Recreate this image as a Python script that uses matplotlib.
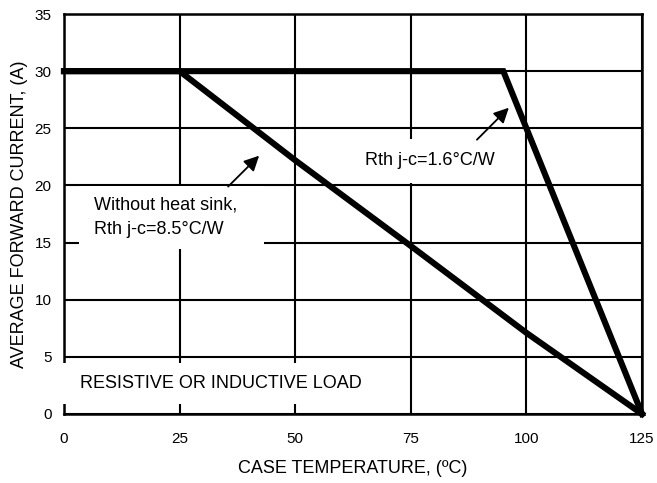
import matplotlib
matplotlib.use("Agg")
import matplotlib.pyplot as plt

plt.rcParams['font.family'] = ['Liberation Sans', 'DejaVu Sans']

# Derating curves
temp_no_sink = [0, 25, 50, 75, 100, 125]
current_no_sink = [30, 30, 22.2, 14.7, 7.1, 0]

temp_sink = [0, 95, 125]
current_sink = [30, 30, 0]

x_ticks = [0, 25, 50, 75, 100, 125]
y_ticks = [0, 5, 10, 15, 20, 25, 30, 35]

fig = plt.figure(figsize=(6.57, 4.83), dpi=100)
ax = fig.add_axes([0.0974, 0.1429, 0.8798, 0.8281])

ax.plot(temp_no_sink, current_no_sink, color='black', lw=4.4, zorder=4,
        solid_joinstyle='miter', clip_on=False)
ax.plot(temp_sink, current_sink, color='black', lw=4.4, zorder=4,
        solid_joinstyle='miter', clip_on=False)

ax.set_xlim(0, 125)
ax.set_ylim(0, 35)
ax.set_xticks(x_ticks)
ax.set_yticks(y_ticks)
ax.grid(True, color='black', lw=1.5)
ax.set_axisbelow(True)
for s in ax.spines.values():
    s.set_linewidth(1.8)
    s.set_zorder(2.5)

ax.tick_params(length=0, labelsize=11)
ax.tick_params(axis='x', pad=13)
ax.tick_params(axis='y', pad=9)

ax.set_xlabel('CASE TEMPERATURE, (\u00baC)', fontsize=13, labelpad=10)
ax.set_ylabel('AVERAGE FORWARD CURRENT, (A)', fontsize=13, labelpad=5)


def white_box(pad):
    return dict(facecolor='white', edgecolor='none', boxstyle='square,pad=%s' % pad)


# white boxes hide the grid behind the labels, like the original
ax.text(5.5, 17.2, ' Without heat sink,   \n Rth j-c=8.5\u00b0C/W', fontsize=13,
        va='center', ha='left', linespacing=1.6, bbox=white_box(0.6), zorder=3)
ax.text(65.1, 22.15, 'Rth j-c=1.6\u00b0C/W   ', fontsize=13,
        va='center', ha='left', bbox=white_box(0.75), zorder=3)
ax.text(1.3, 2.64, '  RESISTIVE OR INDUCTIVE LOAD', fontsize=13,
        va='center', ha='left', bbox=white_box(0.66), zorder=3, clip_on=False)

arrow = dict(arrowstyle='-|>,head_length=0.9,head_width=0.45', color='black',
             lw=1.3, shrinkA=0, shrinkB=0)
ax.annotate('', xy=(42.2, 22.6), xytext=(35.5, 19.9), arrowprops=arrow, zorder=5)
ax.annotate('', xy=(96.2, 26.8), xytext=(89.3, 24.0), arrowprops=arrow, zorder=5)

fig.savefig('out.png', dpi=100)
